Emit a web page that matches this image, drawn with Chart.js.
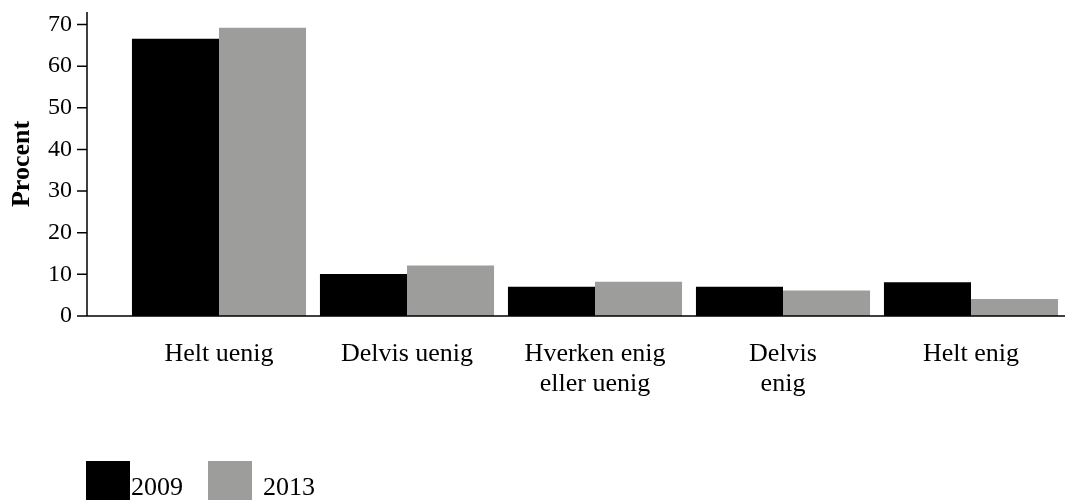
<!DOCTYPE html>
<html>
<head>
<meta charset="utf-8">
<script src="https://cdn.jsdelivr.net/npm/chart.js@4.4.1/dist/chart.umd.min.js"></script>
<style>
  html, body { margin: 0; padding: 0; background: #fff; }
  #wrap { width: 1065px; height: 502px; }
</style>
</head>
<body>
<div id="wrap"><canvas id="myChart" width="1065" height="502"></canvas></div>
<script>
const categories = ['Helt uenig', 'Delvis uenig', ['Hverken enig', 'eller uenig'], ['Delvis', 'enig'], 'Helt enig'];
const seriesNames = ['2009', '2013'];
const values2009 = [66.6, 10.1, 7.0, 7.0, 8.1];
const values2013 = [69.2, 12.1, 8.2, 6.1, 4.1];
const yTicks = [0, 10, 20, 30, 40, 50, 60, 70];

const serif = "'Liberation Serif', 'Times New Roman', serif";

// axis lines drawn by hand: the y axis sits left of the first category
const axisLines = {
  id: 'axisLines',
  afterDatasetsDraw(chart) {
    const { ctx, chartArea, scales } = chart;
    const axisX = 87;
    ctx.save();
    ctx.strokeStyle = '#000';
    ctx.lineWidth = 1.5;
    ctx.beginPath();
    ctx.moveTo(axisX, chartArea.top);
    ctx.lineTo(axisX, chartArea.bottom);
    ctx.lineTo(chartArea.right, chartArea.bottom);
    scales.y.ticks.forEach(t => {
      const py = scales.y.getPixelForValue(t.value);
      ctx.moveTo(axisX - 10, py);
      ctx.lineTo(axisX, py);
    });
    ctx.stroke();
    ctx.restore();
  }
};

const boxLegend = {
  id: 'boxLegend',
  afterDraw(chart) {
    const { ctx } = chart;
    const items = [{ x: 86, textX: 131 }, { x: 208, textX: 263 }];
    ctx.save();
    ctx.font = '26px ' + serif;
    ctx.textBaseline = 'alphabetic';
    ctx.textAlign = 'left';
    chart.data.datasets.forEach((ds, i) => {
      ctx.fillStyle = ds.backgroundColor;
      ctx.fillRect(items[i].x, 461, 44, 39);
      ctx.fillStyle = '#000';
      ctx.fillText(ds.label, items[i].textX, 495);
    });
    ctx.restore();
  }
};

new Chart(document.getElementById('myChart'), {
  type: 'bar',
  data: {
    labels: categories,
    datasets: [
      { label: seriesNames[0], data: values2009, backgroundColor: '#000000' },
      { label: seriesNames[1], data: values2013, backgroundColor: '#9d9d9c' }
    ]
  },
  options: {
    responsive: false,
    animation: false,
    devicePixelRatio: 1,
    layout: { padding: { top: 12, right: 0, bottom: 100, left: 0 } },
    datasets: { bar: { categoryPercentage: 0.926, barPercentage: 1.0 } },
    plugins: { legend: { display: false }, tooltip: { enabled: false } },
    scales: {
      x: {
        offset: true,
        grid: { display: false, drawTicks: false },
        border: { display: false },
        ticks: {
          color: '#000',
          padding: 23,
          maxRotation: 0,
          autoSkip: false,
          font: { family: serif, size: 26, lineHeight: 1.15 }
        },
        afterFit(scale) { scale.height = 86; }
      },
      y: {
        min: 0,
        max: 73,
        grid: { display: false, drawTicks: false },
        border: { display: false },
        afterBuildTicks(scale) { scale.ticks = yTicks.map(v => ({ value: v })); },
        ticks: {
          color: '#000',
          padding: 53,
          font: { family: serif, size: 24 }
        },
        title: {
          display: true,
          text: 'Procent',
          color: '#000',
          padding: { top: 7, bottom: 0 },
          font: { family: serif, size: 26, weight: 'bold' }
        },
        afterFit(scale) {
          scale.width = 125;
          scale.paddingTop = 0;
          scale.paddingBottom = 0;
        }
      }
    }
  },
  plugins: [axisLines, boxLegend]
});
</script>
</body>
</html>
